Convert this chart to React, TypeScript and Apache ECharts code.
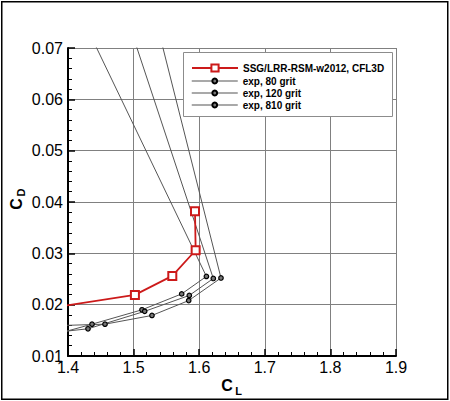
import React, { useEffect, useRef } from "react";
import * as echarts from "echarts";

// ---- data ----
const redName = "SSG/LRR-RSM-w2012, CFL3D";
const redCL = [1.35, 1.502, 1.559, 1.5946, 1.5936];
const redCD = [0.0189, 0.0219, 0.0256, 0.0306, 0.0382];

const exp80Name = "exp, 80 grit";
const exp80CL = [1.3873, 1.611, 1.5733, 1.5128, 1.4366, 1.38];
const exp80CD = [0.085, 0.0255, 0.0221, 0.019, 0.0162, 0.0142];

const exp120Name = "exp, 120 grit";
const exp120CL = [1.4663, 1.6215, 1.5849, 1.5169, 1.4305, 1.38];
const exp120CD = [0.085, 0.0251, 0.0218, 0.0187, 0.0153, 0.0146];

const exp810Name = "exp, 810 grit";
const exp810CL = [1.5152, 1.6332, 1.584, 1.528, 1.4564, 1.38];
const exp810CD = [0.085, 0.0252, 0.0208, 0.0179, 0.0162, 0.0159];

const xMin = 1.4, xMax = 1.9, xStep = 0.1;
const yMin = 0.01, yMax = 0.07, yStep = 0.01;

const FONT = "'Liberation Sans', Arial, Helvetica, sans-serif";

const pairs = (xs: number[], ys: number[]) => xs.map((x, i) => [x, ys[i]]);

export default function App() {
  const ref = useRef<HTMLDivElement>(null);
  useEffect(() => {
    if (!ref.current) return;
    const chart = echarts.init(ref.current, undefined, { renderer: "svg" });
    const expSeries = (name: string, xs: number[], ys: number[]) => ({
      type: "line",
      name,
      data: pairs(xs, ys),
      symbol: "circle",
      symbolSize: 4.5,
      showSymbol: true,
      clip: true,
      lineStyle: { color: "#555", width: 1 },
      itemStyle: { color: "#777", borderColor: "#000", borderWidth: 1.2 },
      z: 2,
    });
    const option: any = {
      animation: false,
      grid: { left: 68, right: 54, top: 48, bottom: 45, containLabel: false, outerBoundsMode: "none" },
      xAxis: {
        type: "value",
        min: xMin,
        max: xMax,
        interval: xStep,
        axisLine: { show: true, onZero: false, lineStyle: { color: "#000", width: 2 } },
        axisTick: { show: true, inside: true, length: 7, lineStyle: { color: "#000", width: 1.5 } },
        minorTick: { show: true, splitNumber: 5, length: 4, lineStyle: { color: "#000", width: 1 } },
        splitLine: { show: true, lineStyle: { color: "#808080", width: 1 } },
        axisLabel: {
          color: "#000",
          fontSize: 16,
          fontFamily: FONT,
          margin: 3,
          formatter: (v: number) => v.toFixed(1),
        },
      },
      yAxis: {
        type: "value",
        min: yMin,
        max: yMax,
        interval: yStep,
        axisLine: { show: true, onZero: false, lineStyle: { color: "#000", width: 2 } },
        axisTick: { show: true, inside: true, length: 7, lineStyle: { color: "#000", width: 1.5 } },
        minorTick: { show: true, splitNumber: 5, length: 4, lineStyle: { color: "#000", width: 1 } },
        splitLine: { show: true, lineStyle: { color: "#808080", width: 1 } },
        axisLabel: {
          color: "#000",
          fontSize: 16,
          fontFamily: FONT,
          margin: 5,
          formatter: (v: number) => v.toFixed(2),
        },
      },
      legend: [
        {
          data: [redName],
          left: 191,
          top: 63,
          padding: 0,
          itemWidth: 46,
          itemHeight: 9,
          selectedMode: false,
          textStyle: { color: "#000", fontSize: 10, fontWeight: "bold", fontFamily: FONT },
          z: 5,
        },
        {
          data: [exp80Name, exp120Name, exp810Name],
          orient: "vertical",
          left: 191,
          top: 76,
          padding: 0,
          itemGap: 2,
          itemWidth: 46,
          itemHeight: 6,
          selectedMode: false,
          lineStyle: { color: "#8c8c8c", width: 1.5 },
          textStyle: { color: "#000", fontSize: 10, fontWeight: "bold", fontFamily: FONT },
          z: 5,
        },
      ],
      graphic: [
        {
          type: "rect",
          z: 3,
          shape: { x: 183.5, y: 52.5, width: 209, height: 64 },
          style: { fill: "#fff", stroke: "#8c8c8c", lineWidth: 1 },
        },
        {
          type: "rect",
          z: 10,
          shape: { x: 1.75, y: 1.75, width: 446, height: 397.5 },
          style: { fill: "none", stroke: "#000", lineWidth: 1.5 },
        },
        {
          type: "text",
          z: 10,
          x: 227,
          y: 385,
          style: { text: "C", fontSize: 16, fontWeight: "bold", fontFamily: FONT, fill: "#000", align: "center", verticalAlign: "middle" },
        },
        {
          type: "text",
          z: 10,
          x: 238.5,
          y: 391,
          style: { text: "L", fontSize: 11, fontWeight: "bold", fontFamily: FONT, fill: "#000", align: "center", verticalAlign: "middle" },
        },
        {
          type: "group",
          x: 16,
          y: 204,
          rotation: Math.PI / 2,
          z: 10,
          children: [
            {
              type: "text",
              z: 10,
              x: 0,
              y: 0,
              style: { text: "C", fontSize: 16, fontWeight: "bold", fontFamily: FONT, fill: "#000", align: "center", verticalAlign: "middle" },
            },
            {
              type: "text",
              z: 10,
              x: 11.5,
              y: 5,
              style: { text: "D", fontSize: 11, fontWeight: "bold", fontFamily: FONT, fill: "#000", align: "center", verticalAlign: "middle" },
            },
          ],
        },
      ],
      series: [
        expSeries(exp80Name, exp80CL, exp80CD),
        expSeries(exp120Name, exp120CL, exp120CD),
        expSeries(exp810Name, exp810CL, exp810CD),
        {
          type: "line",
          name: redName,
          data: pairs(redCL, redCD),
          symbol: "emptyRect",
          symbolSize: 8,
          showSymbol: true,
          clip: true,
          lineStyle: { color: "#cc1a1a", width: 1.8 },
          itemStyle: { color: "#cc1a1a", borderColor: "#cc1a1a", borderWidth: 1.5 },
          z: 2.5,
        },
      ],
    };
    chart.setOption(option);
    return () => chart.dispose();
  }, []);
  return (
    <div
      ref={ref}
      style={{ position: "fixed", left: 0, top: 0, width: 450, height: 401, background: "#fff" }}
    />
  );
}
